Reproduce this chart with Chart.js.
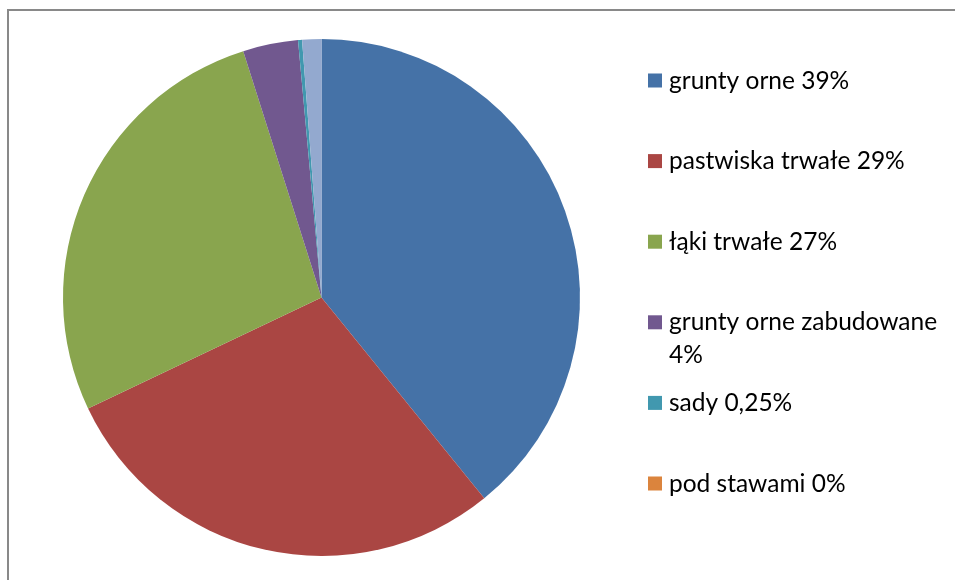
<!DOCTYPE html>
<html>
<head>
<meta charset="utf-8">
<script src="https://cdn.jsdelivr.net/npm/chart.js@4/dist/chart.umd.min.js"></script>
<style>
    html, body { margin: 0; padding: 0; background: #fff; }
    #wrap { width: 955px; height: 580px; }
</style>
</head>
<body>
<div id="wrap"><canvas id="chart"></canvas></div>
<script>
const categories = ['grunty orne', 'pastwiska trwałe', 'łąki trwałe', 'grunty orne zabudowane', 'sady', 'pod stawami', 'inne'];
const shareLabels = ['39%', '29%', '27%', '4%', '0,25%', '0%', '1%'];
const shares = [39.2, 28.8, 27.2, 3.45, 0.25, 0, 1.2];
const colors = ['#4572A7', '#AA4643', '#89A54E', '#71588F', '#4198AF', '#DB843D', '#93A9CF'];

// Excel-like legend: evenly spaced slots, long labels wrap under themselves
const slotLegendPlugin = {
    id: 'slotLegend',
    afterDraw(chart) {
        const opts = chart.options.plugins.slotLegend;
        const { ctx } = chart;
        const labels = chart.data.labels;
        const bg = chart.data.datasets[0].backgroundColor;
        ctx.save();
        ctx.font = opts.font;
        ctx.textBaseline = 'alphabetic';
        const count = Math.min(opts.maxItems, labels.length);
        for (let i = 0; i < count; i++) {
            const cy = opts.top + i * opts.step;
            ctx.fillStyle = bg[i];
            ctx.fillRect(opts.x, cy - opts.box / 2, opts.box, opts.box);
            ctx.fillStyle = '#000';
            const words = (labels[i] + ' ' + shareLabels[i]).split(' ');
            const lines = [];
            let line = '';
            for (const w of words) {
                const test = line ? line + ' ' + w : w;
                if (line && ctx.measureText(test).width > opts.maxWidth) {
                    lines.push(line);
                    line = w;
                } else {
                    line = test;
                }
            }
            lines.push(line);
            lines.forEach((l, k) => {
                ctx.fillText(l, opts.textX, cy + opts.baseline + k * opts.lineHeight);
            });
        }
        ctx.restore();
    }
};

const framePlugin = {
    id: 'frame',
    beforeDraw(chart) {
        const { ctx } = chart;
        ctx.save();
        ctx.strokeStyle = '#898989';
        ctx.lineWidth = 2;
        ctx.beginPath();
        ctx.moveTo(8, chart.height + 5);
        ctx.lineTo(8, 10);
        ctx.lineTo(chart.width + 5, 10);
        ctx.stroke();
        ctx.restore();
    }
};

new Chart(document.getElementById('chart').getContext('2d'), {
    type: 'pie',
    data: {
        labels: categories,
        datasets: [{
            data: shares,
            backgroundColor: colors,
            borderWidth: 0
        }]
    },
    options: {
        responsive: true,
        maintainAspectRatio: false,
        animation: false,
        layout: {
            padding: { left: 63, top: 39, right: 375, bottom: 24 }
        },
        plugins: {
            legend: { display: false },
            tooltip: { enabled: false },
            slotLegend: {
                x: 648, textX: 669, top: 80.5, step: 80.6, box: 14,
                baseline: 8, lineHeight: 33, maxWidth: 280, maxItems: 6,
                font: '24.5px Lato'
            }
        }
    },
    plugins: [framePlugin, slotLegendPlugin]
});
</script>
</body>
</html>
